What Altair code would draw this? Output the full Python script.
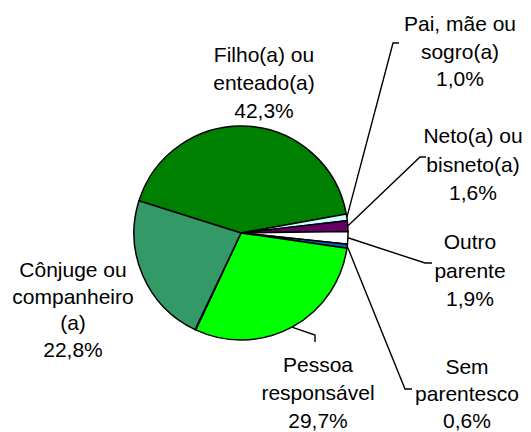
import math
import altair as alt
import pandas as pd

# ---- data ----
categories = [
    "Filho(a) ou enteado(a)",
    "Pai, mãe ou sogro(a)",
    "Neto(a) ou bisneto(a)",
    "Outro parente",
    "Sem parentesco",
    "Pessoa responsável",
    "resto",
    "Cônjuge ou companheiro (a)",
]
values = [42.3, 1.0, 1.6, 1.9, 0.6, 29.7, 0.1, 22.8]
label_texts = [
    ["Filho(a) ou", "enteado(a)"],
    ["Pai, mãe ou", "sogro(a)"],
    ["Neto(a) ou", "bisneto(a)"],
    ["Outro", "parente"],
    ["Sem", "parentesco"],
    ["Pessoa", "responsável"],
    None,
    ["Cônjuge ou", "companheiro", "(a)"],
]

# ---- styles / layout ----
colors = ["#008000", "#CCFFFF", "#660066", "#FFFFFF", "#0066CC", "#00FF00", "#FFFFFF", "#339966"]
W, H = 515, 424
CX, CY, R = 233, 225, 107
START = math.radians(287.5)
FONT = "Liberation Sans"
FS = 21
# label anchor: (center x, first baseline y, line height)
label_pos = {
    0: (256, 54, 28),
    1: (452, 23, 27.5),
    2: (465, 135, 28.5),
    3: (462, 241, 28.5),
    4: (459, 366, 27),
    5: (310, 364, 28),
    7: (65, 269, 26.5),
}
# leader elbows (chart px): list of points after the slice edge point
leader_pts = {
    1: [(385, 35), (391, 35)],
    2: [(412, 149), (418, 149)],
    3: [(417, 255), (424, 255)],
    4: [(397, 381), (404, 381)],
    5: [(307, 327), (307, 334)],
}

total = sum(values)
df = pd.DataFrame({"cat": categories, "value": values, "order": list(range(len(values)))})

pie = alt.Chart(df).mark_arc(outerRadius=R, stroke="black", strokeWidth=1.5).encode(
    theta=alt.Theta("value:Q", stack=True,
                    scale=alt.Scale(domain=[0, total], range=[START, START + 2 * math.pi])),
    order=alt.Order("order:Q"),
    color=alt.Color("cat:N", scale=alt.Scale(domain=categories, range=colors), legend=None),
    x=alt.value(CX),
    y=alt.value(CY),
)

# text rows
rows = []
for i, lines in enumerate(label_texts):
    if lines is None:
        continue
    pct = f"{values[i]:.1f}".replace(".", ",") + "%"
    x0, y0, lh = label_pos[i]
    for j, t in enumerate(lines + [pct]):
        rows.append({"t": t, "px": x0, "py": y0 + j * lh})
tdf = pd.DataFrame(rows)
texts = alt.Chart(tdf).mark_text(font=FONT, fontSize=FS, align="center",
                                 baseline="alphabetic", color="#000000").encode(
    x=alt.X("px:Q", scale=None, axis=None),
    y=alt.Y("py:Q", scale=None, axis=None),
    text="t:N",
)

# leader lines, starting at the slice's mid-angle on the rim
lrows = []
cum = 0.0
for i, v in enumerate(values):
    mid = START + 2 * math.pi * (cum + v / 2) / total
    cum += v
    if i in leader_pts:
        sx = CX + R * math.sin(mid)
        sy = CY - R * math.cos(mid)
        pts = [(sx, sy)] + leader_pts[i]
        for k, (px, py) in enumerate(pts):
            lrows.append({"id": i, "k": k, "px": px, "py": py})
ldf = pd.DataFrame(lrows)
leaders = alt.Chart(ldf).mark_line(color="black", strokeWidth=1.4).encode(
    x=alt.X("px:Q", scale=None, axis=None),
    y=alt.Y("py:Q", scale=None, axis=None),
    detail="id:N",
    order="k:Q",
)

chart = alt.layer(pie, leaders, texts).properties(
    width=W, height=H, padding=0, autosize=alt.AutoSizeParams(type="none"),
    background="white",
).configure_view(stroke=None)

chart.save("out.html", embed_options={"renderer": "svg", "actions": False})
